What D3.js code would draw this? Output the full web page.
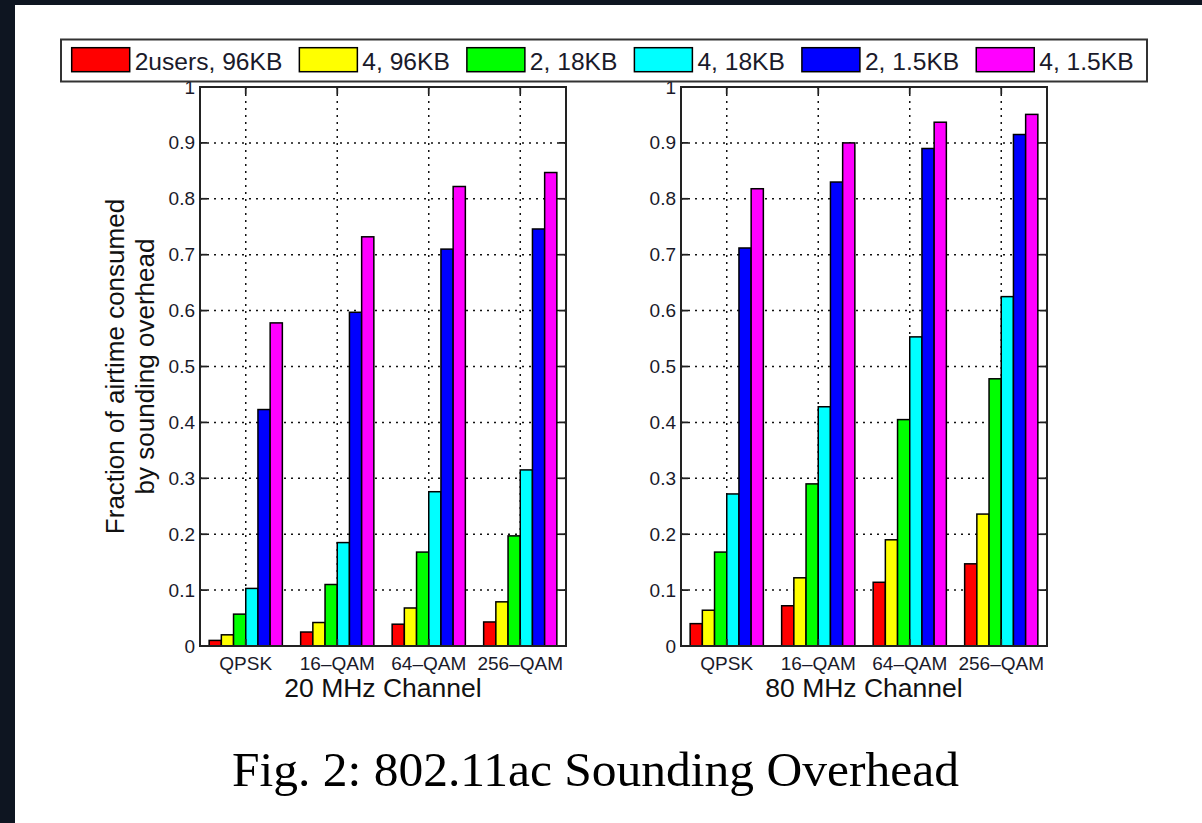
<!DOCTYPE html>
<html>
<head>
<meta charset="utf-8">
<script src="https://cdn.jsdelivr.net/npm/d3@7"></script>
<style>
  html, body { margin: 0; padding: 0; background: #0e1521; }
  svg { display: block; }
</style>
</head>
<body>
<svg id="chart" width="1202" height="823"></svg>
<script>
// ---------- data ----------
const categories = ["QPSK", "16\u2013QAM", "64\u2013QAM", "256\u2013QAM"];
const seriesNames = ["2users, 96KB", "4, 96KB", "2, 18KB", "4, 18KB", "2, 1.5KB", "4, 1.5KB"];
const seriesColors = ["#ff0000", "#ffff00", "#00ff00", "#00ffff", "#0000ff", "#ff00ff"];
const panelTitles = ["20 MHz Channel", "80 MHz Channel"];
// values per category, per series (20 MHz)
const values20 = [
  [0.010, 0.020, 0.057, 0.103, 0.423, 0.578],
  [0.025, 0.042, 0.110, 0.185, 0.597, 0.732],
  [0.039, 0.068, 0.168, 0.276, 0.710, 0.822],
  [0.043, 0.079, 0.197, 0.315, 0.746, 0.847]
];
// values per category, per series (80 MHz)
const values80 = [
  [0.040, 0.064, 0.168, 0.272, 0.712, 0.818],
  [0.072, 0.122, 0.290, 0.428, 0.830, 0.900],
  [0.114, 0.190, 0.405, 0.553, 0.890, 0.937],
  [0.147, 0.236, 0.478, 0.625, 0.915, 0.951]
];
const yTicks = [0, 0.1, 0.2, 0.3, 0.4, 0.5, 0.6, 0.7, 0.8, 0.9, 1];
const yTickLabels = ["0", "0.1", "0.2", "0.3", "0.4", "0.5", "0.6", "0.7", "0.8", "0.9", "1"];
const yLabelLines = ["Fraction of airtime consumed", "by sounding overhead"];
const caption = "Fig. 2: 802.11ac Sounding Overhead";

// ---------- layout ----------
const svg = d3.select("#chart");
const SANS = "'Liberation Sans', Arial, Helvetica, sans-serif";
const SERIF = "'Liberation Serif', 'Times New Roman', serif";

// white page
svg.append("rect").attr("x", 15).attr("y", 5).attr("width", 1202 - 15).attr("height", 823 - 5).attr("fill", "#ffffff");

const yTop = 87, yBottom = 646;
const panels = [
  { x0: 200, x1: 566, data: values20, title: panelTitles[0] },
  { x0: 681, x1: 1047, data: values80, title: panelTitles[1] }
];

const y = d3.scaleLinear().domain([0, 1]).range([yBottom, yTop]);

panels.forEach(p => {
  const g = svg.append("g");
  const x = d3.scaleBand().domain(categories).range([p.x0, p.x1]).paddingInner(0.2).paddingOuter(0.1);
  const xs = d3.scaleBand().domain(d3.range(seriesNames.length)).range([0, x.bandwidth()]);
  const cx = c => x(c) + x.bandwidth() / 2;

  // grid: horizontal
  g.append("g").selectAll("line").data(yTicks.slice(1, -1)).join("line")
    .attr("x1", p.x0).attr("x2", p.x1)
    .attr("y1", d => y(d)).attr("y2", d => y(d))
    .attr("stroke", "#111").attr("stroke-width", 1.5).attr("stroke-dasharray", "2,5");
  // grid: vertical
  g.append("g").selectAll("line").data(categories).join("line")
    .attr("x1", d => cx(d)).attr("x2", d => cx(d))
    .attr("y1", yTop).attr("y2", yBottom)
    .attr("stroke", "#111").attr("stroke-width", 1.5).attr("stroke-dasharray", "2,5");

  // bars
  const grp = g.append("g").selectAll("g").data(categories).join("g")
    .attr("transform", d => `translate(${x(d)},0)`);
  grp.selectAll("rect").data((c, i) => p.data[i].map((v, s) => ({ v, s })))
    .join("rect")
    .attr("x", d => xs(d.s))
    .attr("width", xs.bandwidth())
    .attr("y", d => y(d.v))
    .attr("height", d => y(0) - y(d.v))
    .attr("fill", d => seriesColors[d.s])
    .attr("stroke", "#000").attr("stroke-width", 1.5);

  // tick marks (inward) on all four sides
  const tl = 7;
  const ticks = g.append("g").attr("stroke", "#222").attr("stroke-width", 1.8);
  yTicks.forEach(t => {
    ticks.append("line").attr("x1", p.x0).attr("x2", p.x0 + tl).attr("y1", y(t)).attr("y2", y(t));
    ticks.append("line").attr("x1", p.x1).attr("x2", p.x1 - tl).attr("y1", y(t)).attr("y2", y(t));
  });
  categories.forEach(c => {
    ticks.append("line").attr("x1", cx(c)).attr("x2", cx(c)).attr("y1", yTop).attr("y2", yTop + tl);
    ticks.append("line").attr("x1", cx(c)).attr("x2", cx(c)).attr("y1", yBottom).attr("y2", yBottom - tl);
  });

  // frame
  g.append("rect").attr("x", p.x0).attr("y", yTop).attr("width", p.x1 - p.x0).attr("height", yBottom - yTop)
    .attr("fill", "none").attr("stroke", "#222").attr("stroke-width", 2);

  // y tick labels
  g.append("g").selectAll("text").data(yTicks).join("text")
    .attr("x", p.x0 - 5).attr("y", d => y(d))
    .attr("text-anchor", "end").attr("dominant-baseline", "central")
    .attr("font-family", SANS).attr("font-size", 19).attr("fill", "#1a1a2a")
    .text((d, i) => yTickLabels[i]);

  // x tick labels
  g.append("g").selectAll("text").data(categories).join("text")
    .attr("x", d => cx(d)).attr("y", yBottom + 24)
    .attr("text-anchor", "middle")
    .attr("font-family", SANS).attr("font-size", 19).attr("fill", "#1a1a2a")
    .text(d => d);

  // x label
  g.append("text")
    .attr("x", (p.x0 + p.x1) / 2).attr("y", 697)
    .attr("text-anchor", "middle")
    .attr("font-family", SANS).attr("font-size", 26.5).attr("fill", "#111")
    .text(p.title);
});

// y label (two lines)
const ymid = (yTop + yBottom) / 2;
[115, 145].forEach((xc, i) => {
  svg.append("text")
    .attr("transform", `translate(${xc},${ymid}) rotate(-90)`)
    .attr("text-anchor", "middle").attr("dominant-baseline", "central")
    .attr("font-family", SANS).attr("font-size", 26).attr("fill", "#111")
    .text(yLabelLines[i]);
});

// legend
const lg = svg.append("g");
lg.append("rect").attr("x", 61).attr("y", 39.5).attr("width", 1086).attr("height", 42)
  .attr("fill", "#fff").attr("stroke", "#333").attr("stroke-width", 2);
let lx = 71.7;
seriesNames.forEach((name, i) => {
  lg.append("rect").attr("x", lx).attr("y", 47.7).attr("width", 58).attr("height", 24)
    .attr("fill", seriesColors[i]).attr("stroke", "#000").attr("stroke-width", 1.5);
  const t = lg.append("text").attr("x", lx + 63).attr("y", 70)
    .attr("font-family", SANS).attr("font-size", 24.6).attr("fill", "#1a1a2a")
    .text(name);
  lx = lx + 63 + t.node().getComputedTextLength() + 17;
});

// caption
svg.append("text")
  .attr("x", 595.5).attr("y", 786)
  .attr("text-anchor", "middle")
  .attr("font-family", SERIF).attr("font-size", 49.5).attr("fill", "#000")
  .text(caption);
</script>
</body>
</html>
